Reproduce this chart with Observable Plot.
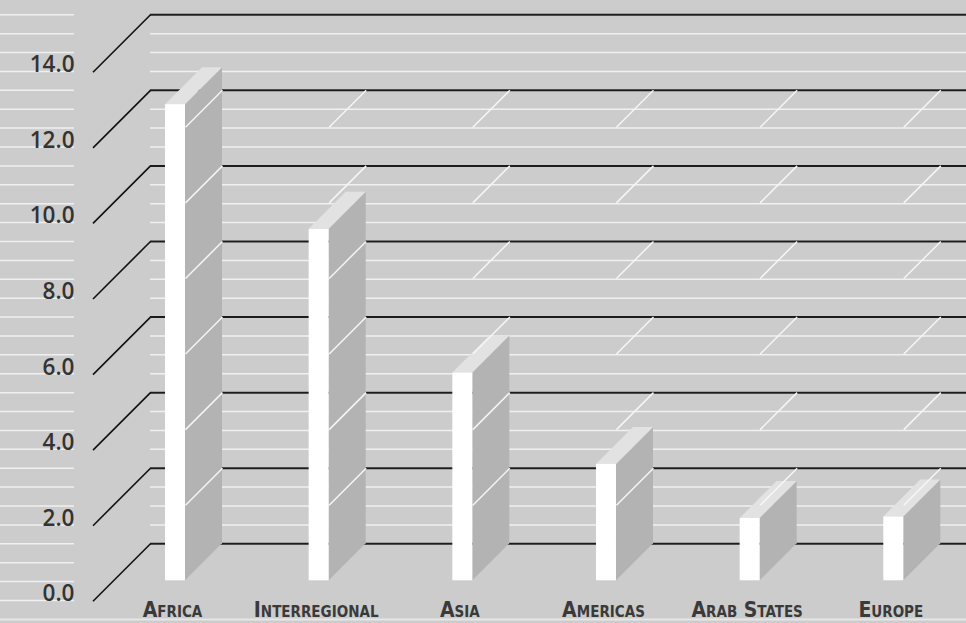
<!DOCTYPE html>
<html><head><meta charset="utf-8">
<script src="https://cdn.jsdelivr.net/npm/d3@7"></script>
<script src="https://cdn.jsdelivr.net/npm/@observablehq/plot@0.6"></script>
<style>
html,body{margin:0;padding:0;background:#cccccc;overflow:hidden}
#chart svg{display:block}
</style></head><body><div id="chart"></div>
<script>
// ---- data ----
const categories = ["Africa", "Interregional", "Asia", "Americas", "Arab States", "Europe"];
const values = [12.6, 9.3, 5.5, 3.08, 1.65, 1.69];
const yTicks = [0, 2, 4, 6, 8, 10, 12, 14];
const yTickLabels = ["0.0", "2.0", "4.0", "6.0", "8.0", "10.0", "12.0", "14.0"];

// ---- layout (pixels) ----
const W = 966, H = 623;
const SLOT = 143.66, UNIT = 37.79;          // px per category, px per value unit
const FIRST_CENTER = 175, WALL_LEFT = 150, ZERO_Y = 543.3;
const BAR_HALF = 10, BAR_DEPTH = 37, FLOOR_DEPTH = 57.5;
const xOf = px => (px - FIRST_CENTER) / SLOT;
const dX = px => px / SLOT, dY = px => px / UNIT;

const bars = categories.map((c, i) => ({c, i, v: values[i]}));
const sides = bars.flatMap(b => [
  {c: b.c, x: b.i + dX(BAR_HALF), y1: -dY(BAR_DEPTH), y2: b.v - dY(BAR_DEPTH)},
  {c: b.c, x: b.i + dX(BAR_HALF + BAR_DEPTH), y1: 0, y2: b.v}
]);
const tops = bars.flatMap(b => [
  {c: b.c, y: b.v - dY(BAR_DEPTH), x1: b.i - dX(BAR_HALF), x2: b.i + dX(BAR_HALF)},
  {c: b.c, y: b.v, x1: b.i - dX(BAR_HALF) + dX(BAR_DEPTH), x2: b.i + dX(BAR_HALF + BAR_DEPTH)}
]);
const depthLines = bars.flatMap(b => yTicks.filter(t => t > 0 && t < 14).map(t => ({
  x1: b.i + dX(BAR_HALF), y1: t - dY(BAR_DEPTH), x2: b.i + dX(BAR_HALF + BAR_DEPTH), y2: t
})));
const wallStripes = d3.range(0, 14.001, 0.5);
const leftStripes = d3.range(-1.5, 14.001, 0.5);

const chart = Plot.plot({
  width: W, height: H,
  marginLeft: WALL_LEFT, marginRight: 0,
  marginTop: ZERO_Y - 14 * UNIT, marginBottom: H - ZERO_Y,
  x: {domain: [xOf(WALL_LEFT), xOf(W)], axis: null},
  y: {domain: [0, 14], axis: null},
  style: {background: "#cccccc", overflow: "visible"},
  marks: [
    Plot.ruleY(leftStripes, {x1: xOf(0), x2: xOf(74), stroke: "#f0f0f0", strokeWidth: 1.5}),
    Plot.ruleY(wallStripes, {stroke: "#f0f0f0", strokeWidth: 1.5}),
    Plot.ruleY([-2], {x1: xOf(0), x2: xOf(W), stroke: "#e6e6e6", strokeWidth: 2}),
    Plot.ruleY(yTicks, {stroke: "#1c1c1c", strokeWidth: 2}),
    Plot.link(yTicks, {
      x1: xOf(WALL_LEFT - FLOOR_DEPTH), y1: d => d - dY(FLOOR_DEPTH),
      x2: xOf(WALL_LEFT), y2: d => d, stroke: "#111", strokeWidth: 1.6
    }),
    Plot.areaY(sides, {x: "x", y1: "y1", y2: "y2", z: "c", fill: "#b3b3b3"}),
    Plot.areaX(tops, {y: "y", x1: "x1", x2: "x2", z: "c", fill: "#e2e2e2"}),
    Plot.link(depthLines, {x1: "x1", y1: "y1", x2: "x2", y2: "y2", stroke: "#f6f6f6", strokeWidth: 1.5}),
    Plot.rect(bars, {
      x1: b => b.i - dX(BAR_HALF), x2: b => b.i + dX(BAR_HALF),
      y1: -dY(BAR_DEPTH), y2: b => b.v - dY(BAR_DEPTH), fill: "#ffffff"
    }),
    Plot.text(yTicks, {
      x: xOf(74), y: d => d - dY(FLOOR_DEPTH), text: (d, i) => yTickLabels[i],
      textAnchor: "end", lineAnchor: "bottom", fontSize: 22.5, fontFamily: "'Open Sans', sans-serif",
      fontWeight: 600, fill: "#333333"
    }),
    Plot.text(bars, {
      x: b => b.i - dX(3), y: -1.5 - dY(16.5), text: "c",
      lineAnchor: "bottom", fontSize: 21, fontWeight: "bold",
      fontFamily: "'Liberation Sans Narrow', 'DejaVu Sans Condensed', sans-serif",
      fontVariant: "small-caps", fill: "#3a3a3a"
    })
  ]
});
document.getElementById("chart").appendChild(chart);
</script></body></html>
